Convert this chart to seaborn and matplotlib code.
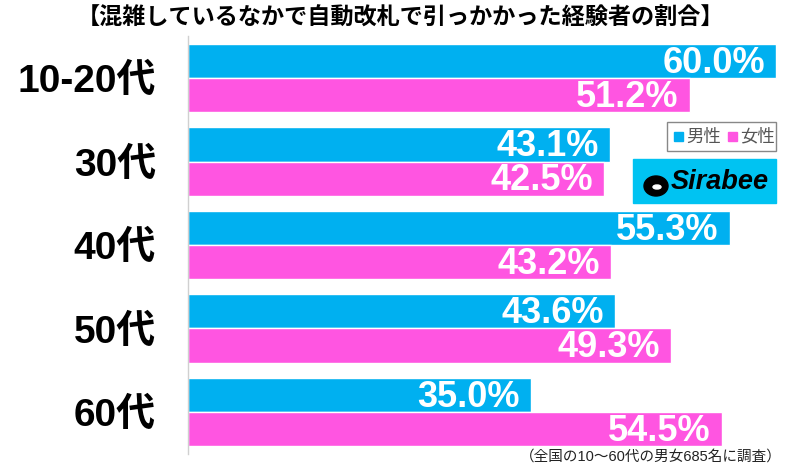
import matplotlib
matplotlib.use("Agg")
import matplotlib.pyplot as plt
import seaborn as sns
import pandas as pd
from matplotlib.patches import Rectangle, Ellipse

categories = ["10-20代", "30代", "40代", "50代", "60代"]
male = [60.0, 43.1, 55.3, 43.6, 35.0]
female = [51.2, 42.5, 43.2, 49.3, 54.5]
series = ["男性", "女性"]
colors = ["#00B0F0", "#FF55E1"]

title = "【混雑しているなかで自動改札で引っかかった経験者の割合】"
note = "（全国の10～60代の男女685名に調査）"

sns.set_theme(style="white")
plt.rcParams['font.family'] = ['Liberation Sans', 'Noto Sans CJK JP', 'DejaVu Sans']

df = pd.DataFrame({
    "cat": categories * 2,
    "val": male + female,
    "sex": [series[0]] * len(categories) + [series[1]] * len(categories),
})

fig = plt.figure(figsize=(8, 4.66), dpi=100)
ax = fig.add_axes([0.235, 0.0263, 0.765, 0.8959])
sns.barplot(data=df, y="cat", x="val", hue="sex", palette=colors, orient="h",
            width=0.815, ax=ax, legend=False, saturation=1, errorbar=None)

ax.set_xlim(0, 62.45)
ax.set_ylim(len(categories) - 0.5, -0.5)
ax.set_xlabel("")
ax.set_ylabel("")
ax.set_xticks([])
for s in ["top", "right", "bottom"]:
    ax.spines[s].set_visible(False)
ax.spines["left"].set_color("#D0D0D0")
ax.spines["left"].set_linewidth(1)
ax.tick_params(axis="y", length=0, pad=23)
for lbl in ax.get_yticklabels():
    lbl.set_fontsize(28)
    lbl.set_fontweight("bold")
    lbl.set_color("black")

# value labels
for cont in ax.containers:
    for p in cont.patches:
        w = p.get_width()
        ax.annotate(f"{w:.1f}%", xy=(w, p.get_y() + p.get_height() / 2),
                    xytext=(-8, -1.5), textcoords="offset points",
                    ha="right", va="center", color="white",
                    fontsize=26, fontweight="bold")

# title
fig.text(0.5, 0.962, title, ha="center", va="center", fontsize=16.7,
         fontweight="bold", color="black")

# legend
lx0, ly0, lx1, ly1 = 667 / 800, 1 - 151 / 466, 776 / 800, 1 - 122 / 466
fig.patches.append(Rectangle((lx0, ly0), lx1 - lx0, ly1 - ly0, transform=fig.transFigure,
                             fill=False, edgecolor="#888888", linewidth=1))
ym = (ly0 + ly1) / 2
items = [(674 / 800, series[0], colors[0]), (728 / 800, series[1], colors[1])]
for x, lab, c in items:
    fig.patches.append(Rectangle((x, ym - 4.5 / 466), 9 / 800, 9 / 466,
                                 transform=fig.transFigure, color=c))
    fig.text(x + 12 / 800, ym, lab, ha="left", va="center", fontsize=12.5, color="#555555")

# logo
fig.patches.append(Rectangle((633 / 800, 1 - 203 / 466), 143 / 800, 44 / 466,
                             transform=fig.transFigure, color="#00C3F2"))
fig.patches.append(Ellipse((656 / 800, 1 - 186 / 466), 24 / 800, 20 / 466,
                           transform=fig.transFigure, color="black"))
fig.patches.append(Ellipse((657 / 800, 1 - 187 / 466), 8 / 800, 4 / 466,
                           transform=fig.transFigure, color="white"))
fig.text(671 / 800, 1 - 182 / 466, "Sirabee", ha="left", va="center", fontsize=19.5,
         fontweight="bold", fontstyle="italic", color="black")

# note
fig.text(782 / 800, 1 - 457 / 466, note, ha="right", va="center", fontsize=10.5,
         color="#222222")

fig.savefig("out.png", dpi=100)
